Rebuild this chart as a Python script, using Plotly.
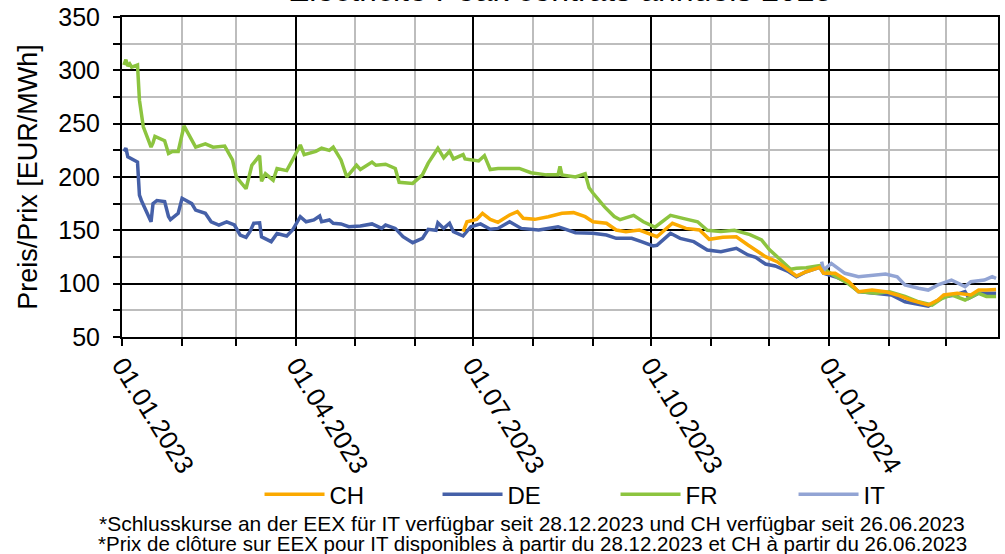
import plotly.graph_objects as go

# ---------------- data ----------------
fr_dates = ["2023-01-02","2023-01-03","2023-01-04","2023-01-05","2023-01-06","2023-01-09","2023-01-10",
            "2023-01-12","2023-01-16","2023-01-17","2023-01-18","2023-01-23","2023-01-25","2023-01-27",
            "2023-01-30","2023-02-02","2023-02-08","2023-02-13","2023-02-17","2023-02-23","2023-02-27",
            "2023-03-01","2023-03-06","2023-03-09","2023-03-13","2023-03-14","2023-03-16","2023-03-20",
            "2023-03-22","2023-03-27","2023-03-30","2023-04-03","2023-04-05","2023-04-11","2023-04-14",
            "2023-04-18","2023-04-20","2023-04-24","2023-04-27","2023-05-02","2023-05-04","2023-05-10",
            "2023-05-12","2023-05-17","2023-05-22","2023-05-24","2023-05-31","2023-06-05","2023-06-08",
            "2023-06-13","2023-06-16","2023-06-19","2023-06-21","2023-06-26","2023-06-27","2023-07-04",
            "2023-07-07","2023-07-10","2023-07-14","2023-07-25","2023-07-31","2023-08-08","2023-08-14",
            "2023-08-15","2023-08-16","2023-08-23","2023-08-28","2023-08-30","2023-09-01","2023-09-07",
            "2023-09-12","2023-09-15","2023-09-22","2023-09-27","2023-10-03","2023-10-06","2023-10-11",
            "2023-10-18","2023-10-25","2023-10-30","2023-11-06","2023-11-13","2023-11-21","2023-11-27",
            "2023-12-01","2023-12-07","2023-12-12","2023-12-15","2023-12-20","2023-12-27","2024-01-03",
            "2024-01-10","2024-01-16","2024-01-25","2024-02-01","2024-02-09","2024-02-16","2024-02-23",
            "2024-02-28","2024-03-04","2024-03-11","2024-03-18","2024-03-22","2024-03-27"]
fr_values = [305,310,304,306,303,305,272,
             247,228,232,238,234,222,224,
             224,248,228,231,228,229,216,
             200,189,211,220,196,203,197,
             208,206,216,230,221,224,227,
             225,228,216,200,211,207,214,
             211,212,208,195,194,202,213,
             227,218,224,217,221,217,215,
             220,207,208,208,204,202,202,
             210,202,200,203,190,185,172,
             163,160,164,158,153,157,164,
             161,158,150,149,150,146,141,
             132,122,113.5,114.4,115,117,108,
             101,92.5,91,92.5,88,83,80,
             86,89.4,84.7,91,88,88]

de_dates = ["2023-01-02","2023-01-03","2023-01-04","2023-01-06","2023-01-09","2023-01-10","2023-01-11",
            "2023-01-16","2023-01-17","2023-01-19","2023-01-23","2023-01-25","2023-01-26","2023-01-30",
            "2023-02-01","2023-02-06","2023-02-08","2023-02-13","2023-02-16","2023-02-20","2023-02-24",
            "2023-02-28","2023-03-03","2023-03-06","2023-03-08","2023-03-10","2023-03-13","2023-03-14",
            "2023-03-19","2023-03-22","2023-03-27","2023-03-30","2023-04-03","2023-04-06","2023-04-10",
            "2023-04-13","2023-04-14","2023-04-18","2023-04-20","2023-04-24","2023-04-28","2023-05-04",
            "2023-05-10","2023-05-15","2023-05-17","2023-05-22","2023-05-26","2023-05-31","2023-06-05",
            "2023-06-08","2023-06-12","2023-06-13","2023-06-16","2023-06-19","2023-06-21","2023-06-26",
            "2023-06-30","2023-07-05","2023-07-10","2023-07-14","2023-07-20","2023-07-26","2023-08-04",
            "2023-08-14","2023-08-23","2023-09-01","2023-09-08","2023-09-13","2023-09-21","2023-09-26",
            "2023-10-02","2023-10-04","2023-10-11","2023-10-16","2023-10-23","2023-10-30","2023-11-06",
            "2023-11-14","2023-11-20","2023-11-24","2023-11-29","2023-12-04","2023-12-11","2023-12-15",
            "2023-12-20","2023-12-27","2023-12-29","2024-01-04","2024-01-10","2024-01-16","2024-01-25",
            "2024-02-02","2024-02-09","2024-02-21","2024-02-23","2024-02-29","2024-03-06","2024-03-11",
            "2024-03-13","2024-03-18","2024-03-27"]
de_values = [224,227,219,217,214,183,178,
             158,175,178,177,163,160,166,
             180,175,169,166,158,155,158,
             155,145.6,143.5,148.7,156.6,157,144,
             139.4,147,144.7,150.3,162.8,158,159.7,
             163.4,158,159.7,156.6,156,153.4,154,
             156,151.8,155,151.8,144,138.4,142.5,
             151,150,157,151.8,156.6,148.7,144.7,
             153.4,156,151,151.8,158,151.8,150.3,
             153.4,147.8,147.2,145.6,142.5,142.5,139.4,
             135.3,136,147.2,142.5,139.4,131.6,130,
             133.2,126.9,124.7,118.4,116.6,111.2,106.5,
             111.2,115.3,109.7,106.5,101.9,92.5,91,
             89.4,83,79,81,87.8,89.4,92.5,
             86.3,91,91]

ch_dates = ["2023-06-26","2023-06-28","2023-07-03","2023-07-06","2023-07-10","2023-07-14","2023-07-20",
            "2023-07-24","2023-07-27","2023-08-02","2023-08-09","2023-08-16","2023-08-22","2023-08-28",
            "2023-09-01","2023-09-08","2023-09-13","2023-09-18","2023-09-25","2023-10-02","2023-10-04",
            "2023-10-12","2023-10-19","2023-10-26","2023-10-31","2023-11-07","2023-11-14","2023-11-20",
            "2023-11-24","2023-11-29","2023-12-05","2023-12-11","2023-12-15","2023-12-20","2023-12-27",
            "2023-12-29","2024-01-04","2024-01-11","2024-01-16","2024-01-23","2024-01-30","2024-02-05",
            "2024-02-12","2024-02-21","2024-02-26","2024-02-29","2024-03-07","2024-03-14","2024-03-18",
            "2024-03-22","2024-03-27"]
ch_values = [148.7,158,160.3,166,160.3,157.5,164.4,
             167.5,161.3,160.3,162.8,166,166.6,162.8,
             158,156.6,150.3,148.7,150.3,145.6,144,
             156.6,151.8,150.3,141.6,143.5,144,136.3,
             131.6,125.3,120.6,112.8,107.2,111.2,115.3,
             109.7,109.7,101.9,92.5,94,92.5,89.4,
             84.7,80,84.7,89.4,91,89.4,94,
             94,94.6]

it_dates = ["2023-12-28","2023-12-29","2024-01-02","2024-01-04","2024-01-09","2024-01-16","2024-01-23",
            "2024-01-30","2024-02-05","2024-02-09","2024-02-16","2024-02-21","2024-02-26","2024-03-04",
            "2024-03-11","2024-03-14","2024-03-21","2024-03-25","2024-03-27"]
it_values = [120.6,112.8,119,116.6,109.7,106.5,108,
             109,106.5,98.8,95.7,94,98.8,103.4,
             97.2,101.9,103.4,106.5,105]

series_names = ["CH", "DE", "FR", "IT"]
title_text = "Electricité Peak contrats annuels 2025"
y_title = "Preis/Prix [EUR/MWh]"
footnote_de = "*Schlusskurse an der EEX für IT verfügbar seit 28.12.2023 und CH verfügbar seit 26.06.2023"
footnote_fr = "*Prix de clôture sur EEX pour IT disponibles à partir du 28.12.2023 et CH à partir du 26.06.2023"

# ---------------- styling ----------------
COL = {"CH": "#FBA900", "DE": "#4560A8", "FR": "#8CC43F", "IT": "#92A4D4"}
FONT = "Liberation Sans, Arial, sans-serif"
LW = 3.5

fig = go.Figure()
# drawing order: DE, FR, IT, CH (orange on top); legend order CH, DE, FR, IT
traces = [("DE", de_dates, de_values), ("FR", fr_dates, fr_values),
          ("IT", it_dates, it_values), ("CH", ch_dates, ch_values)]
for name, xs, ys in traces:
    fig.add_trace(go.Scatter(
        x=xs, y=ys, mode="lines", name=name,
        line=dict(color=COL[name], width=LW),
        legendrank=series_names.index(name) + 1,
    ))

fig.update_layout(
    width=1005, height=554,
    margin=dict(l=122, r=7, t=17, b=217),
    paper_bgcolor="white", plot_bgcolor="white",
    font=dict(family=FONT, size=24, color="black"),
    showlegend=True,
    legend=dict(orientation="h", x=0.157, xanchor="left", y=-0.493, yanchor="middle",
                font=dict(size=24), entrywidth=103, entrywidthmode="pixels",
                itemwidth=60, traceorder="normal", bgcolor="rgba(0,0,0,0)"),
)

fig.update_xaxes(
    type="date", range=["2023-01-01", "2024-03-28"], automargin=False,
    dtick="M3", tick0="2023-01-01", tickformat="%d.%m.%Y", tickangle=58,
    ticklabelstandoff=-6,
    showgrid=True, gridcolor="black", gridwidth=1.5,
    ticks="outside", ticklen=7, tickwidth=1.5, tickcolor="black",
    showline=True, linecolor="black", linewidth=2, mirror=True,
    tickfont=dict(size=26),
    minor=dict(dtick="M1", tick0="2023-01-01", showgrid=True, gridcolor="#BDBDBD", gridwidth=1.5,
               ticks="outside", ticklen=7, tickwidth=1.5, tickcolor="black"),
    zeroline=False,
)
fig.update_yaxes(
    range=[50, 350], dtick=50, tick0=50, automargin=False,
    ticklabelstandoff=8,
    showgrid=True, gridcolor="black", gridwidth=1.5,
    ticks="outside", ticklen=7, tickwidth=1.5, tickcolor="black",
    showline=True, linecolor="black", linewidth=2, mirror=True,
    tickfont=dict(size=25),
    title=dict(text=y_title, font=dict(size=27), standoff=13),
    minor=dict(dtick=25, tick0=50, showgrid=True, gridcolor="#BDBDBD", gridwidth=1.5,
               ticks="outside", ticklen=7, tickwidth=1.5, tickcolor="black"),
    zeroline=False,
)

fig.add_annotation(text=title_text, xref="paper", yref="paper", x=0.5, y=1.021,
                   xanchor="center", yanchor="bottom", showarrow=False, font=dict(size=32))
fig.add_annotation(text=footnote_de, xref="paper", yref="paper", x=0.4686, y=-0.584,
                   xanchor="center", yanchor="middle", showarrow=False, font=dict(size=21))
fig.add_annotation(text=footnote_fr, xref="paper", yref="paper", x=0.4686, y=-0.645,
                   xanchor="center", yanchor="middle", showarrow=False, font=dict(size=20.5))

fig.write_html("out.html", config={"displayModeBar": False},
               post_script="document.body.style.margin='0';document.body.style.overflow='hidden';")
